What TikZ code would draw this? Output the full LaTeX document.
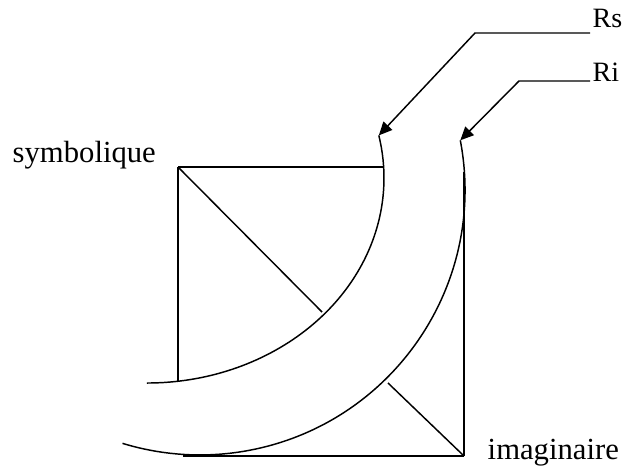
\documentclass[tikz,border=0pt]{standalone}
\usepackage{fontspec}
\setmainfont{Liberation Serif}
\usetikzlibrary{arrows.meta}

\begin{document}
\begin{tikzpicture}[x=0.75pt, y=0.75pt, line width=1.1pt,
    pointer/.style={-{Triangle[length=10pt, width=9pt]}},
    bigword/.style={anchor=base west, inner sep=0pt, font=\fontsize{23}{28}\selectfont},
    smallword/.style={anchor=base west, inner sep=0pt, font=\fontsize{21}{25}\selectfont}]
    \useasboundingbox (0,0) rectangle (628,472);

    % Labels
    \node[bigword] (symb) at (12,309) {symbolique};
    \node[bigword] (imag) at (487,13) {imaginaire};
    \node[smallword] (Rs) at (592,444) {Rs};
    \node[smallword] (Ri) at (592,390) {Ri};

    % Corners of the two squares
    \coordinate (S) at (178,305);
    \coordinate (I) at (464,16);

    % Symbolic square
    \draw (S) -- (383,305);
    \draw (S) -- (178,90);
    \draw (S) -- (322,160);

    % Imaginary square
    \draw (I) -- (464,300);
    \draw (I) -- (183,16);
    \draw (I) -- (388,89);

    % The two arcs
    \coordinate (RsTop) at (378.8,336.6);
    \coordinate (RiTop) at (460.3,331.7);
    \draw (RsTop) arc[start angle=12, end angle=-90, x radius=237, y radius=205];
    \draw (RiTop) arc[start angle=10.8, end angle=-107, radius=265];

    % Pointers from the labels
    \coordinate (RsEnd) at (590,439);
    \coordinate (RsBend) at (475,439);
    \coordinate (RiEnd) at (590,391);
    \coordinate (RiBend) at (519,391);
    \draw[pointer] (RsEnd) -- (RsBend) -- (RsTop);
    \draw[pointer] (RiEnd) -- (RiBend) -- (RiTop);

\end{tikzpicture}
\end{document}
